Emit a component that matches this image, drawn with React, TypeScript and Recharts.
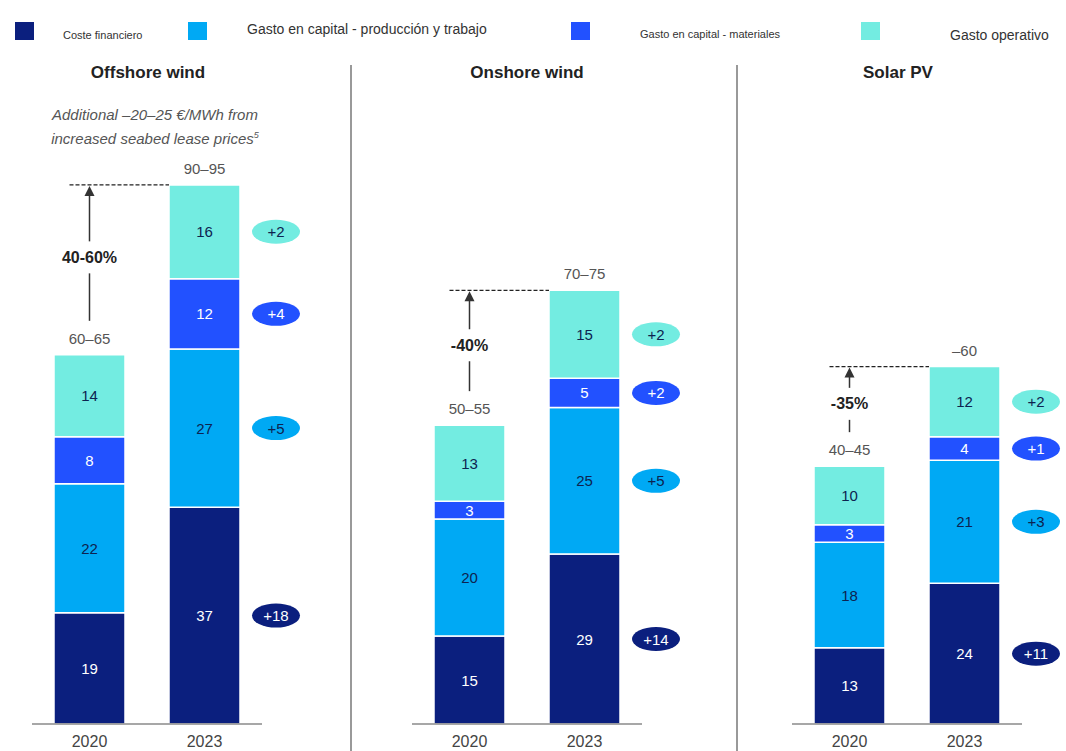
import React from "react";
import { BarChart, Bar, XAxis, YAxis, LabelList, ReferenceLine } from "recharts";

const years = ["2020", "2023"];
const techTitles = ["Offshore wind", "Onshore wind", "Solar PV"];

// €/MWh by component, [2020, 2023] per technology
const costeFinanciero = [[19, 37], [15, 29], [13, 24]];
const capitalProduccion = [[22, 27], [20, 25], [18, 21]];
const capitalMateriales = [[8, 12], [3, 5], [3, 4]];
const gastoOperativo = [[14, 16], [13, 15], [10, 12]];

const deltaFinanciero = ["+18", "+14", "+11"];
const deltaProduccion = ["+5", "+5", "+3"];
const deltaMateriales = ["+4", "+2", "+1"];
const deltaOperativo = ["+2", "+2", "+2"];

const totalLabels = [["60–65", "90–95"], ["50–55", "70–75"], ["40–45", "–60"]];
const changeLabels = ["40-60%", "-40%", "-35%"];

const legendNames = [
  "Coste financiero",
  "Gasto en capital - producción y trabajo",
  "Gasto en capital - materiales",
  "Gasto operativo",
];

const NAVY = "#0b1f7e";
const DARK_TEXT = "#0d2350";
const FONT = "'Liberation Sans', Arial, sans-serif";

const series = [
  { key: "fin", name: legendNames[0], color: NAVY, text: "#fff", deltas: deltaFinanciero },
  { key: "prod", name: legendNames[1], color: "#00a9f4", text: DARK_TEXT, deltas: deltaProduccion },
  { key: "mat", name: legendNames[2], color: "#2251ff", text: "#fff", deltas: deltaMateriales },
  { key: "op", name: legendNames[3], color: "#73ece1", text: DARK_TEXT, deltas: deltaOperativo },
];

const BAR_W = 71;

function Panel({ idx, left }: { idx: number; left: number }) {
  const data = years.map((year, i) => ({
    year,
    fin: costeFinanciero[idx][i],
    prod: capitalProduccion[idx][i],
    mat: capitalMateriales[idx][i],
    op: gastoOperativo[idx][i],
  }));
  const totals = data.map((d) => d.fin + d.prod + d.mat + d.op);

  return (
    <div style={{ position: "absolute", left, top: 60 }}>
      <BarChart
        width={294}
        height={691}
        data={data}
        margin={{ top: 78, right: 44, bottom: 0, left: 20 }}
        barSize={BAR_W}
      >
        <XAxis
          dataKey="year"
          axisLine={{ stroke: "#8a8a8a", strokeWidth: 1.5 }}
          tickLine={false}
          height={27}
          tick={{ fontSize: 16, fill: "#444", fontFamily: FONT, dy: 4 }}
        />
        <YAxis hide domain={[0, 100]} />
        {series.map((s, si) => (
          <Bar
            key={s.key}
            dataKey={s.key}
            stackId="a"
            fill={s.color}
            stroke="#fff"
            strokeWidth={1.5}
            isAnimationActive={false}
          >
            <LabelList
              dataKey={s.key}
              content={(p: any) => {
                const { x, y, width, height, value, index } = p;
                const cx = x + width / 2;
                const cy = y + height / 2;
                return (
                  <g>
                    <text
                      x={cx}
                      y={cy}
                      textAnchor="middle"
                      dominantBaseline="central"
                      fontSize={15}
                      fontFamily={FONT}
                      fill={s.text}
                    >
                      {value}
                    </text>
                    {index === 1 && (
                      <g>
                        <ellipse cx={x + width + 36} cy={cy} rx={24} ry={12} fill={s.color} />
                        <text
                          x={x + width + 36}
                          y={cy}
                          textAnchor="middle"
                          dominantBaseline="central"
                          fontSize={15}
                          fontFamily={FONT}
                          fill={s.text}
                        >
                          {s.deltas[idx]}
                        </text>
                      </g>
                    )}
                    {si === series.length - 1 && (
                      <text
                        x={cx}
                        y={y - 11}
                        textAnchor="middle"
                        fontSize={15}
                        fontFamily={FONT}
                        fill="#555"
                      >
                        {totalLabels[idx][index]}
                      </text>
                    )}
                  </g>
                );
              }}
            />
          </Bar>
        ))}
        <ReferenceLine
          segment={[
            { x: "2020", y: totals[1] },
            { x: "2023", y: totals[1] },
          ]}
          shape={(p: any) => (
            <line
              x1={p.x1 - 20}
              y1={p.y1}
              x2={p.x2 - BAR_W / 2}
              y2={p.y2}
              stroke="#222"
              strokeWidth={1.2}
              strokeDasharray="4 2"
            />
          )}
        />
        <ReferenceLine
          segment={[
            { x: "2020", y: totals[0] },
            { x: "2020", y: totals[1] },
          ]}
          shape={(p: any) => {
            const x = p.x1;
            const yBot = p.y1 - 34;
            const yTop = p.y2 + 1;
            const mid = (yTop + yBot) / 2 + 4;
            return (
              <g>
                <path d={`M${x - 5},${yTop + 10} L${x},${yTop} L${x + 5},${yTop + 10} Z`} fill="#333" />
                <line x1={x} y1={yTop + 9} x2={x} y2={mid - 16} stroke="#333" strokeWidth={1.5} />
                <line x1={x} y1={mid + 16} x2={x} y2={yBot} stroke="#333" strokeWidth={1.5} />
                <text
                  x={x}
                  y={mid}
                  textAnchor="middle"
                  dominantBaseline="central"
                  fontSize={16}
                  fontWeight="bold"
                  fontFamily={FONT}
                  fill="#222"
                >
                  {changeLabels[idx]}
                </text>
              </g>
            );
          }}
        />
      </BarChart>
    </div>
  );
}

const legendLayout = [
  { sq: 15, tx: 63, size: 11, top: 29 },
  { sq: 188, tx: 247, size: 14, top: 21 },
  { sq: 571, tx: 640, size: 11, top: 28 },
  { sq: 861, tx: 950, size: 14, top: 27 },
];

export default function App() {
  const panelLefts = [12, 392, 772];
  const titleCenters = [148, 527, 898];
  return (
    <div
      style={{
        position: "absolute",
        left: 0,
        top: 0,
        width: 1066,
        height: 751,
        background: "#fff",
        fontFamily: FONT,
        overflow: "hidden",
      }}
    >
      {series.map((s, i) => {
        const l = legendLayout[i];
        return (
          <React.Fragment key={s.key}>
            <div
              style={{
                position: "absolute",
                left: l.sq,
                top: 22,
                width: 19,
                height: 18,
                background: s.color,
              }}
            />
            <div
              style={{
                position: "absolute",
                left: l.tx,
                top: l.top,
                fontSize: l.size,
                color: "#333",
                whiteSpace: "nowrap",
                lineHeight: `${l.size + 2}px`,
              }}
            >
              {s.name}
            </div>
          </React.Fragment>
        );
      })}

      {techTitles.map((t, i) => (
        <div
          key={t}
          style={{
            position: "absolute",
            left: titleCenters[i] - 100,
            width: 200,
            top: 63,
            textAlign: "center",
            fontSize: 17,
            fontWeight: "bold",
            color: "#222",
          }}
        >
          {t}
        </div>
      ))}

      <div
        style={{
          position: "absolute",
          left: 5,
          width: 300,
          top: 104,
          textAlign: "center",
          fontSize: 15,
          fontStyle: "italic",
          color: "#555",
          lineHeight: "21px",
        }}
      >
        Additional –20–25 €/MWh from
        <br />
        increased seabed lease prices<sup style={{ fontSize: 9 }}>5</sup>
      </div>

      <div style={{ position: "absolute", left: 350, top: 65, width: 1.5, height: 690, background: "#999" }} />
      <div style={{ position: "absolute", left: 736, top: 65, width: 1.5, height: 690, background: "#999" }} />

      {techTitles.map((t, i) => (
        <Panel key={t} idx={i} left={panelLefts[i]} />
      ))}
    </div>
  );
}
